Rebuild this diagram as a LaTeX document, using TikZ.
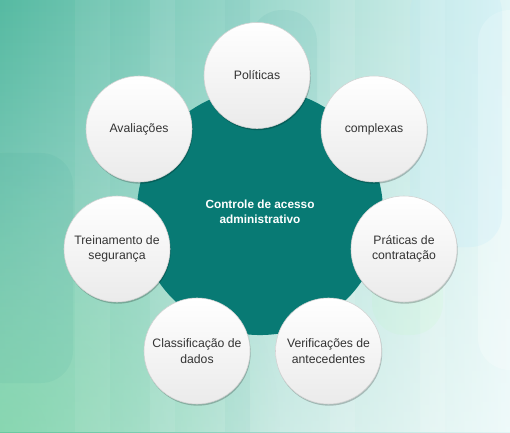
\documentclass[tikz,border=0pt]{standalone}
\usepackage{fontspec}
\setmainfont{Liberation Sans}
\usepackage{xcolor}
\usepackage{tikz}
\usetikzlibrary{shadows, fadings}

\definecolor{hubteal}{RGB}{8,122,116}
\definecolor{bgleft}{RGB}{86,186,162}
\definecolor{bgmid}{RGB}{140,214,208}
\definecolor{bgright}{RGB}{226,246,246}
\definecolor{bggreen}{RGB}{120,214,160}
\definecolor{txtgray}{RGB}{51,51,51}

\tikzfading[name=fade round, inner color=transparent!40, outer color=transparent!100]

\begin{document}
\begin{tikzpicture}[
    x=0.025cm, y=-0.025cm,
    hub/.style={circle, fill=hubteal, minimum size=6.15cm, inner sep=0pt, align=center,
        text=white, font=\fontsize{8.4}{10.6}\selectfont\bfseries},
    topic/.style={circle, draw=gray!35, thin, top color=white, bottom color=gray!16,
        minimum size=2.65cm, inner sep=0pt, align=center, text=txtgray,
        font=\fontsize{8.7}{10.9}\selectfont,
        drop shadow={shadow xshift=0.5pt, shadow yshift=-1.2pt, fill=black, opacity=0.22}},
    pill/.style={rounded corners=0.8cm, draw=none},
]

% === Background ===
\useasboundingbox (0,0) rectangle (510,432);
\shade[left color=bgleft, middle color=bgmid, right color=bgright] (0,0) rectangle (510,432);
\fill[white, path fading=north, opacity=0.45] (0,0) rectangle (510,432);
\fill[bggreen, path fading=fade round] (0,432) circle (280);

% vertical stripes
\fill[white, opacity=0.06] (75,0) rectangle (110,432);
\fill[white, opacity=0.08] (150,0) rectangle (175,432);
\fill[white, opacity=0.10] (330,0) rectangle (355,432);
\fill[white, opacity=0.12] (420,0) rectangle (445,432);
\fill[teal, opacity=0.04] (225,0) rectangle (250,432);

% rounded pills
\fill[pill, teal, opacity=0.05] (-30,153) rectangle (73,383);
\fill[pill, teal, opacity=0.06] (250,10) rectangle (317,140);
\fill[pill, white, opacity=0.25] (478,10) rectangle (540,370);
\fill[pill, cyan!30, opacity=0.18] (410,-20) rectangle (502,247);
\fill[pill, green!30, opacity=0.10] (372,200) rectangle (443,335);

% === Hub ===
\node[hub] (hub) at (260,212) {Controle de acesso\\administrativo};

% === Topic circles ===
\node[topic] (pol) at (257,75.5) {Políticas};
\node[topic] (cpx) at (374,129) {complexas};
\node[topic] (pra) at (404,249) {Práticas de\\contratação};
\node[topic] (ver) at (328.5,351) {Verificações de\\antecedentes};
\node[topic] (cla) at (197,351) {Classificação de\\dados};
\node[topic] (tre) at (117,249) {Treinamento de\\segurança};
\node[topic] (ava) at (139,129) {Avaliações};

\end{tikzpicture}
\end{document}
